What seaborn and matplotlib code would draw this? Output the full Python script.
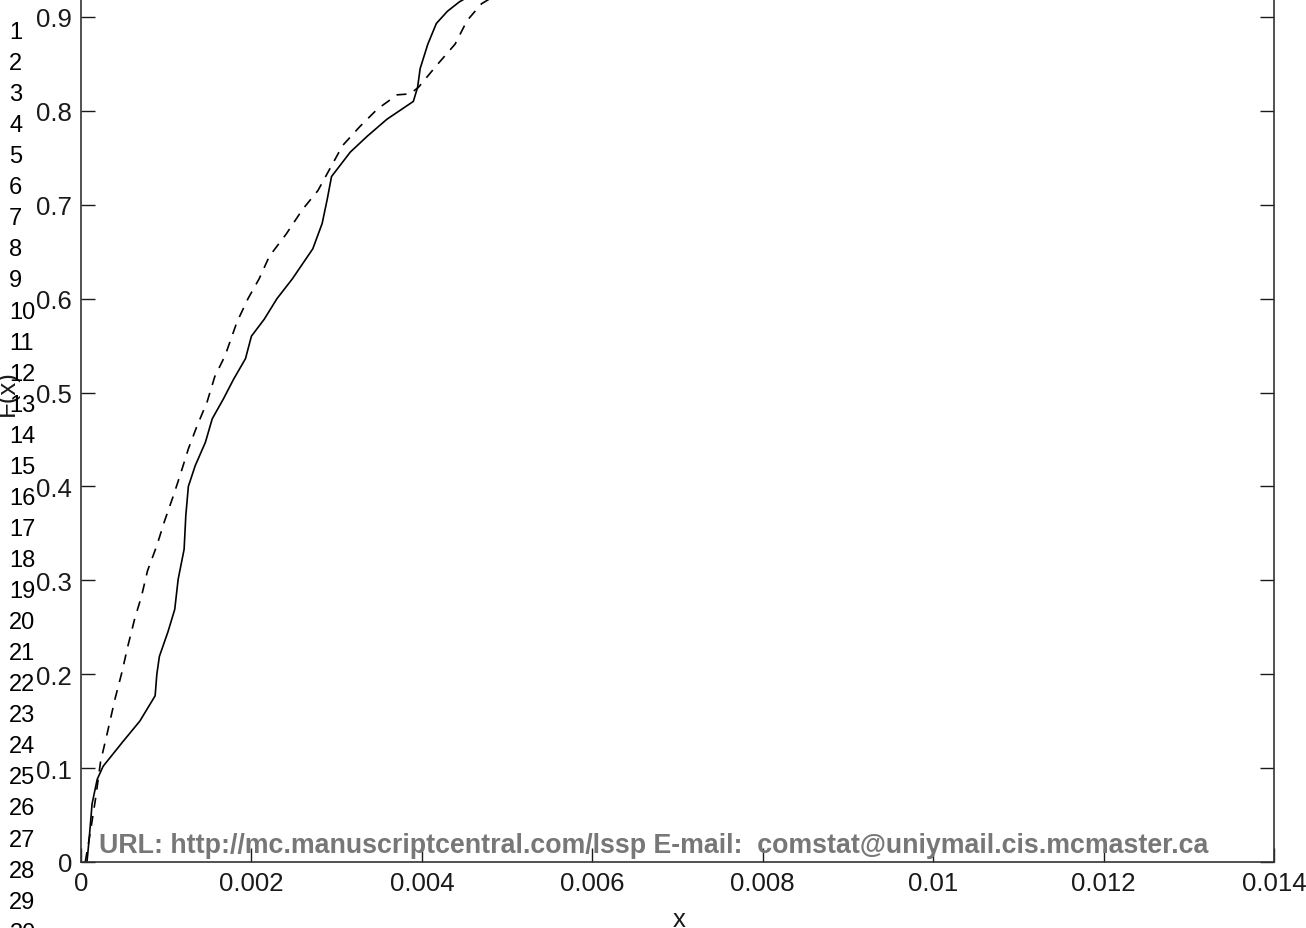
import numpy as np
import matplotlib
matplotlib.use('Agg')
import matplotlib.pyplot as plt
import seaborn as sns

# curva continua (F empirica)
x_solid = [0.00007, 0.00009, 0.00011, 0.00013, 0.00016, 0.00019, 0.00026, 0.00049,
           0.00069, 0.00087, 0.00089, 0.00092, 0.00102, 0.00110, 0.00114, 0.00121,
           0.00123, 0.00126, 0.00134, 0.00146, 0.00154, 0.00167, 0.00179, 0.00193,
           0.00200, 0.00215, 0.00230, 0.00248, 0.00272, 0.00283, 0.00289, 0.00294,
           0.00316, 0.00336, 0.00359, 0.00390, 0.00395, 0.00398, 0.00407, 0.00417,
           0.00430, 0.00444, 0.00480]
y_solid = [0.000, 0.019, 0.040, 0.062, 0.075, 0.088, 0.102, 0.128,
           0.150, 0.177, 0.200, 0.219, 0.245, 0.269, 0.301, 0.333,
           0.369, 0.400, 0.422, 0.447, 0.472, 0.493, 0.514, 0.536,
           0.560, 0.578, 0.600, 0.621, 0.653, 0.680, 0.706, 0.730,
           0.756, 0.773, 0.791, 0.810, 0.825, 0.845, 0.871, 0.893,
           0.906, 0.916, 0.935]

# curva tracejada (F ajustada)
x_dash = [0.00005, 0.00011, 0.00017, 0.00023, 0.00031, 0.00040, 0.00048, 0.00055,
          0.00063, 0.00071, 0.00078, 0.00089, 0.00098, 0.00108, 0.00116, 0.00126,
          0.00136, 0.00148, 0.00157, 0.00169, 0.00183, 0.00196, 0.00209, 0.00221,
          0.00241, 0.00260, 0.00278, 0.00307, 0.00327, 0.00348, 0.00371, 0.00386,
          0.00396, 0.00417, 0.00439, 0.00453, 0.00470, 0.00503]
y_dash = [0.000, 0.032, 0.067, 0.107, 0.138, 0.174, 0.202, 0.230,
          0.259, 0.283, 0.310, 0.337, 0.363, 0.389, 0.411, 0.440,
          0.464, 0.490, 0.517, 0.539, 0.575, 0.600, 0.621, 0.645,
          0.669, 0.695, 0.715, 0.763, 0.783, 0.802, 0.817, 0.818,
          0.825, 0.848, 0.871, 0.896, 0.914, 0.932]

x_ticks = [0, 0.002, 0.004, 0.006, 0.008, 0.01, 0.012, 0.014]
x_ticklabels = ['0', '0.002', '0.004', '0.006', '0.008', '0.01', '0.012', '0.014']
y_ticks = [0, 0.1, 0.2, 0.3, 0.4, 0.5, 0.6, 0.7, 0.8, 0.9]
y_ticklabels = ['0', '0.1', '0.2', '0.3', '0.4', '0.5', '0.6', '0.7', '0.8', '0.9']

line_numbers = list(range(1, 31))
watermark = 'URL: http://mc.manuscriptcentral.com/lssp E-mail:  comstat@uniymail.cis.mcmaster.ca'

sns.set_style('ticks')
plt.rcParams['font.family'] = ['Liberation Sans', 'DejaVu Sans']

W, H = 1306, 929
fig = plt.figure(figsize=(W / 100, H / 100), dpi=100)
# eixo estende-se acima da figura (topo cortado)
ax = fig.add_axes([81 / W, 66 / H, 1193 / W, 939 / H])

sns.lineplot(x=x_solid, y=y_solid, sort=False, estimator=None, ax=ax,
             color='black', linewidth=1.2)
sns.lineplot(x=x_dash, y=y_dash, sort=False, estimator=None, ax=ax,
             color='black', linewidth=1.2, linestyle=(0, (6, 5)))

ax.set_xlim(0, 0.014)
ax.set_ylim(0, 1.0)
ax.set_xticks(x_ticks)
ax.set_xticklabels(x_ticklabels)
ax.set_yticks(y_ticks)
ax.set_yticklabels(y_ticklabels)
ax.tick_params(direction='in', length=10, width=1, top=True, right=True,
               labelsize=18.5, colors='#1a1a1a')
ax.tick_params(axis='y', pad=6.5)
ax.tick_params(axis='x', pad=6.5)
for s in ax.spines.values():
    s.set_color('#333333')
    s.set_linewidth(1.2)

# rotulos dos eixos
fig.text(679 / W, 1 - 927 / H, 'x', fontsize=18.5, color='#1a1a1a',
         ha='center', va='baseline')
fig.text(7 / W, 1 - 393 / H, 'F(x)', fontsize=18.5, color='#1a1a1a',
         ha='center', va='center', rotation=90)

# numeracao de linhas do manuscrito
for n in line_numbers:
    yc = 33 + (n - 1) * 31.06
    fig.text(9 / W, 1 - yc / H, str(n), fontsize=17, color='black',
             ha='left', va='center')

fig.text(654 / W, 1 - 853 / H, watermark, fontsize=19.3, fontweight='bold',
         color='#777777', ha='center', va='baseline')

fig.savefig('out.png', dpi=100)
